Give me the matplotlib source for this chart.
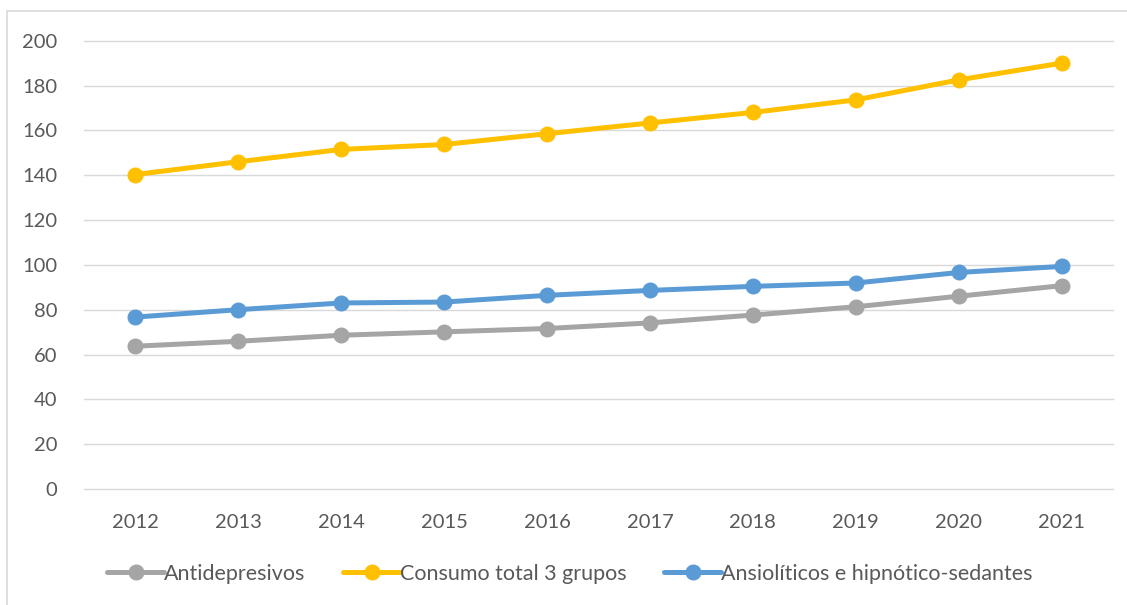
import matplotlib.pyplot as plt
from matplotlib.patches import Rectangle

years = ['2012', '2013', '2014', '2015', '2016', '2017', '2018', '2019', '2020', '2021']
antidepresivos = [63.7, 65.9, 68.6, 70.1, 71.6, 74.1, 77.6, 81.3, 86.0, 90.7]
consumo_total = [140.3, 146.0, 151.5, 153.7, 158.5, 163.3, 168.0, 173.6, 182.5, 190.0]
ansioliticos = [76.7, 80.0, 83.0, 83.4, 86.4, 88.6, 90.4, 91.9, 96.6, 99.3]

plt.rcParams['font.family'] = ['Lato', 'DejaVu Sans']
text_color = '#595959'

fig = plt.figure(figsize=(11.27, 6.05), dpi=100)
ax = fig.add_axes([84 / 1127, 1 - 489 / 605, 1029 / 1127, 448.3 / 605])

# outer chart frame (only top and left edges fall inside the image)
fig.patches.append(Rectangle((7 / 1127, -0.1), 1.2, (605 - 11) / 605 + 0.1,
                             transform=fig.transFigure, fill=False,
                             edgecolor='#D9D9D9', linewidth=1.2))

x = list(range(len(years)))
series = [
    ('Antidepresivos', antidepresivos, '#A5A5A5'),
    ('Consumo total 3 grupos', consumo_total, '#FFC000'),
    ('Ansiolíticos e hipnótico-sedantes', ansioliticos, '#5B9BD5'),
]
for name, vals, col in series:
    ax.plot(x, vals, color=col, linewidth=3.6, marker='o', markersize=10.5,
            solid_capstyle='round', label=name, zorder=3)

ax.set_xlim(-0.5, len(years) - 0.5)
ax.set_ylim(0, 200)
ax.set_yticks(range(0, 201, 20))
ax.set_xticks(x)
ax.set_xticklabels(years)
ax.grid(axis='y', color='#D9D9D9', linewidth=1.0)
for gl in ax.get_ygridlines():
    gl.set_clip_on(False)
ax.set_axisbelow(True)
for s in ax.spines.values():
    s.set_visible(False)
ax.tick_params(axis='both', length=0, labelsize=14.5, labelcolor=text_color)
ax.tick_params(axis='y', pad=19)
ax.tick_params(axis='x', pad=18)

leg = fig.legend(loc='center', bbox_to_anchor=(570 / 1127, 1 - 574 / 605), ncol=3,
                 frameon=False, fontsize=15.5, handlelength=2.65, handletextpad=0.0,
                 columnspacing=1.75, labelcolor=text_color)

fig.savefig('out.png', dpi=100)
